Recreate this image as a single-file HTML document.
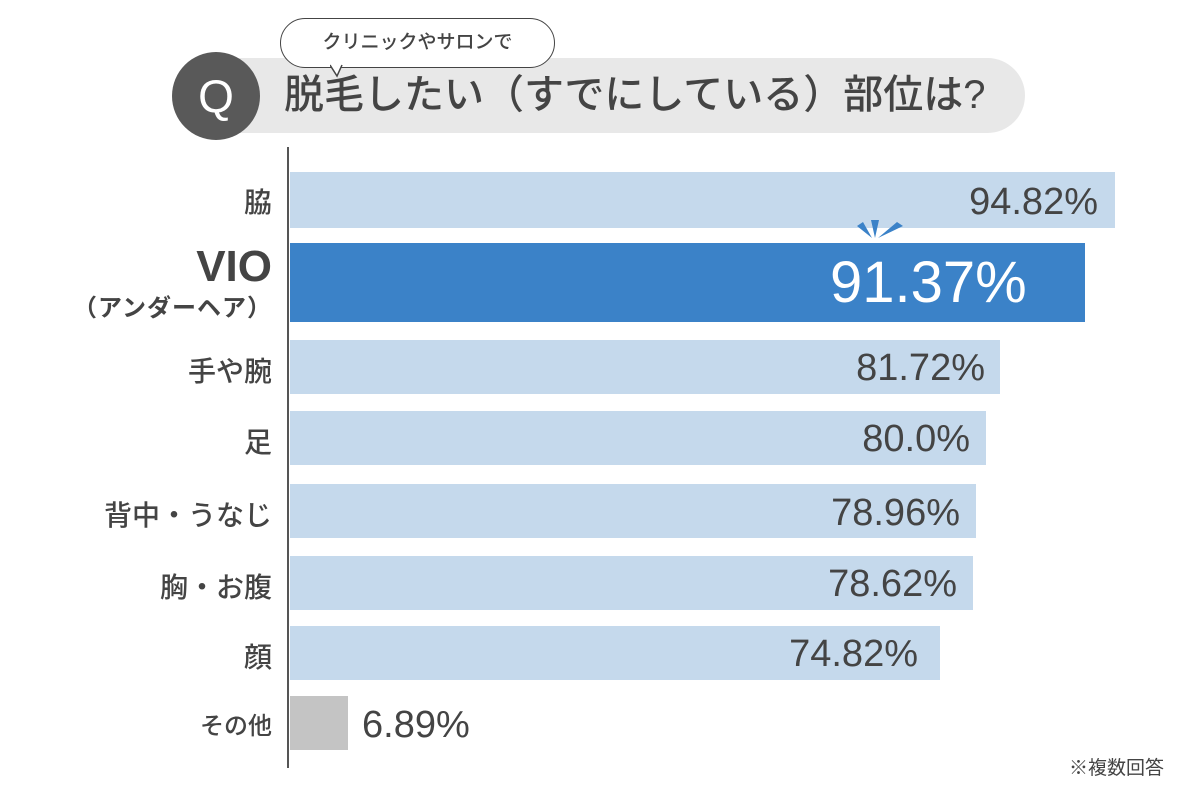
<!DOCTYPE html>
<html><head><meta charset="utf-8"><style>
body{margin:0;width:1200px;height:800px;background:#fff;position:relative;overflow:hidden;font-family:"Liberation Sans","Noto Sans CJK JP",sans-serif;color:#444}
.a{position:absolute}
.bar{position:absolute;left:290px;background:#c5d9ec}
.lab{position:absolute;right:928px;font-size:28px;color:#444;text-align:right;white-space:nowrap;font-weight:500}
.val{position:absolute;font-size:38px;color:#444;white-space:nowrap;line-height:1}
</style></head><body>
<div class="a" style="left:180px;top:58px;width:845px;height:75px;border-radius:38px;background:#e8e8e8"></div>
<div class="a" style="left:172px;top:52px;width:88px;height:88px;border-radius:50%;background:#595959;color:#fff;font-size:46px;line-height:88px;text-align:center">Q</div>
<div class="a" style="left:284px;top:68px;font-size:40px;line-height:54px;color:#444;white-space:nowrap;font-weight:500">脱毛したい（すでにしている）部位は?</div>
<div class="a" style="left:280px;top:18px;width:273px;height:48px;border:1.5px solid #444;border-radius:25px;background:#fff;font-size:19px;line-height:48px;text-align:center;color:#444;font-weight:500">クリニックやサロンで</div>
<svg class="a" style="left:330px;top:64px" width="20" height="14"><path d="M0 1 L7 12 L12 1" fill="#fff" stroke="#444" stroke-width="1.5"/></svg>
<div class="a" style="left:287px;top:147px;width:2px;height:621px;background:#555"></div>

<div class="bar" style="top:172px;width:825px;height:56px"></div>
<div class="bar" style="top:243px;width:795px;height:79px;background:#3b82c8"></div>
<div class="bar" style="top:340px;width:710px;height:54px"></div>
<div class="bar" style="top:411px;width:696px;height:54px"></div>
<div class="bar" style="top:484px;width:686px;height:54px"></div>
<div class="bar" style="top:556px;width:683px;height:54px"></div>
<div class="bar" style="top:626px;width:650px;height:54px"></div>
<div class="bar" style="top:696px;width:58px;height:54px;background:#c4c4c4"></div>

<svg class="a" style="left:855px;top:218px" width="50" height="24"><path d="M16 2 L24 2 L20 20Z M2 8 L8 4 L17 20Z M48 8 L42 4 L23 20Z" fill="#3b82c8"/></svg>

<div class="lab" style="top:181px">脇</div>
<div class="lab" style="top:244px;font-size:44px;font-weight:bold;line-height:46px">VIO</div>
<div class="lab" style="top:288px;font-size:24px;font-weight:bold;letter-spacing:1px">（アンダーヘア）</div>
<div class="lab" style="top:350px">手や腕</div>
<div class="lab" style="top:421px">足</div>
<div class="lab" style="top:494px">背中・うなじ</div>
<div class="lab" style="top:566px">胸・お腹</div>
<div class="lab" style="top:636px">顔</div>
<div class="lab" style="top:706px;font-size:24px">その他</div>

<div class="val" style="right:102px;top:183px">94.82%</div>
<div class="val" style="left:830px;top:254px;font-size:58px;color:#fff">91.37%</div>
<div class="val" style="right:215px;top:349px">81.72%</div>
<div class="val" style="right:230px;top:420px">80.0%</div>
<div class="val" style="right:240px;top:494px">78.96%</div>
<div class="val" style="right:243px;top:565px">78.62%</div>
<div class="val" style="right:282px;top:635px">74.82%</div>
<div class="val" style="left:362px;top:706px">6.89%</div>
<div class="a" style="right:36px;top:753px;font-size:19px;color:#444">※複数回答</div>
</body></html>
